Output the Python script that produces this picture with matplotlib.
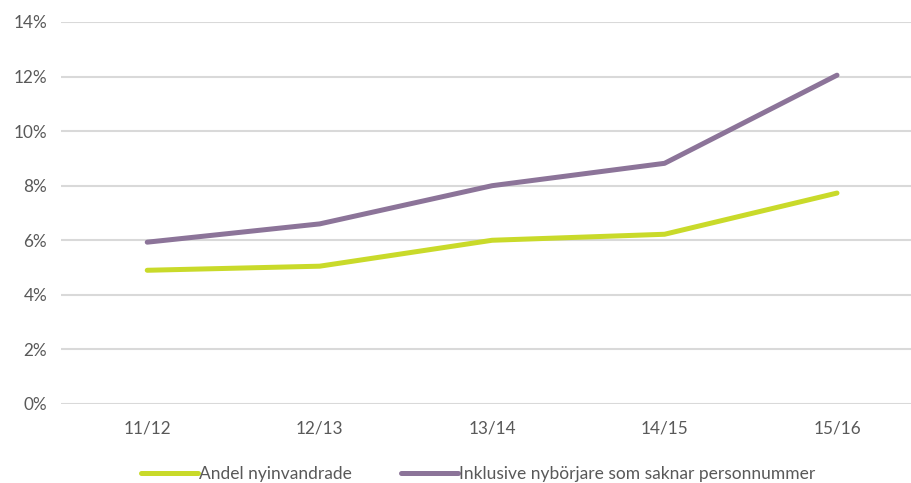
import matplotlib
matplotlib.use("Agg")
import matplotlib.pyplot as plt
from matplotlib.ticker import FuncFormatter

categories = ["11/12", "12/13", "13/14", "14/15", "15/16"]
andel = [0.049, 0.0505, 0.060, 0.0622, 0.0773]
inklusive = [0.0593, 0.066, 0.080, 0.0882, 0.1205]
yticks = [0, 0.02, 0.04, 0.06, 0.08, 0.10, 0.12, 0.14]
labels = ["Andel nyinvandrade", "Inklusive nybörjare som saknar personnummer"]

plt.rcParams['font.family'] = ['Lato', 'DejaVu Sans']
fig = plt.figure(figsize=(9.12, 4.83), dpi=100)
ax = fig.add_axes([0.0669, 0.1636, 0.9331, 0.7909])

x = range(len(categories))
ax.plot(x, andel, color="#C9DA2A", lw=3.6, solid_capstyle="round", label=labels[0], zorder=3)
ax.plot(x, inklusive, color="#8C7499", lw=3.6, solid_capstyle="round", label=labels[1], zorder=3)

ax.set_xlim(-0.5, 4.435)
ax.set_ylim(0, 0.14)
ax.set_yticks(yticks)
ax.yaxis.set_major_formatter(FuncFormatter(lambda v, p: f"{v*100:.0f}%"))
ax.set_xticks(list(x))
ax.set_xticklabels(categories)
ax.grid(axis="y", color="#D9D9D9", lw=1.5)
ax.set_axisbelow(True)
for s in ax.spines.values():
    s.set_visible(False)
ax.tick_params(length=0, labelsize=12.3, colors="#595959")
ax.tick_params(axis="x", pad=12)
ax.tick_params(axis="y", pad=10)

leg = fig.legend(loc="lower center", bbox_to_anchor=(0.524, -0.03), ncol=2, frameon=False,
                 fontsize=12.5, handlelength=3.3, handletextpad=0.05, columnspacing=2.8)
for t in leg.get_texts():
    t.set_color("#595959")

fig.savefig("out.png", dpi=100)
